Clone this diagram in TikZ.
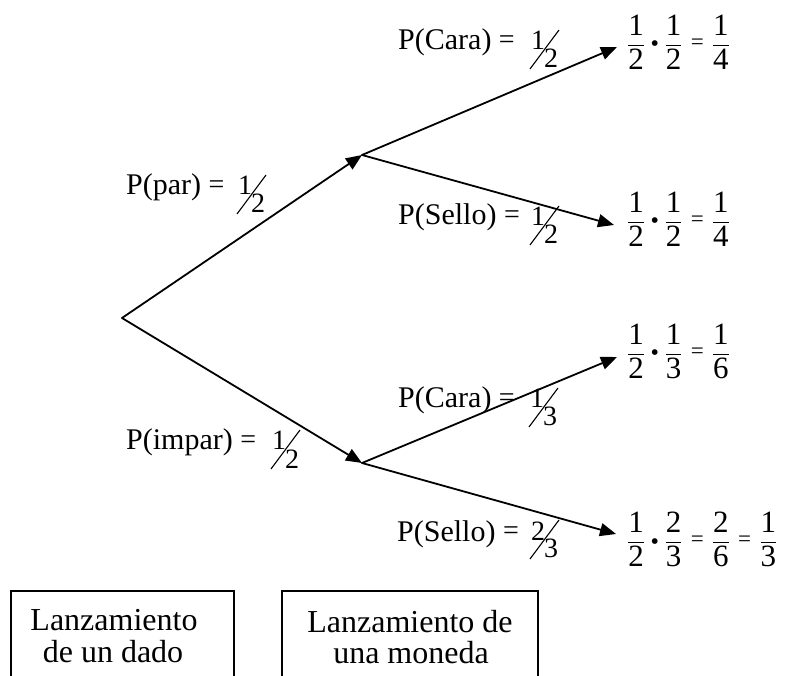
\documentclass[tikz,border=0pt]{standalone}
\usepackage{amsmath}
\usepackage{fontspec}
\setmainfont{Liberation Serif}
\usetikzlibrary{arrows.meta}
\newcommand\fr[2]{\dfrac{\mbox{#1}}{\mbox{#2}}}
\newcommand\dotop{\mathbin{\mbox{\fontsize{24}{24}\selectfont\textbullet}}}
\newcommand\eqop{\mathrel{\mkern1mu\raisebox{2.2pt}{\fontsize{23}{23}\selectfont=}\mkern1mu}}
\newcommand\eqlbl{\raisebox{1.5pt}{\fontsize{28}{28}\selectfont=}}
\tikzset{
  pics/slfrac/.style 2 args={code={
    \draw[slashst] (0,19) -- (29,-20);
    \node[digst, anchor=base] (-n) at (8,0) {#1};
    \node[digst, anchor=base] (-d) at (21,18) {#2};
  }}
}
\begin{document}
\begin{tikzpicture}[x=1pt,y=-1pt,
  edge/.style={line width=1.8pt, line cap=round, -{Triangle[length=16pt,width=13pt]}},
  lbl/.style={anchor=base west, inner sep=0pt, font=\fontsize{30}{36}\selectfont},
  digst/.style={inner sep=0pt, font=\fontsize{28}{32}\selectfont},
  slashst/.style={line width=1.1pt},
  expr/.style={anchor=base west, inner sep=0pt, font=\fontsize{31}{37}\selectfont},
  boxst/.style={draw, line width=1.5pt, anchor=north west, inner sep=0pt},
  boxtext/.style={anchor=base, inner sep=0pt, font=\fontsize{32}{38}\selectfont},
]
\useasboundingbox (0,0) rectangle (788,676);
\clip (0,0) rectangle (788,676);

% tree points
\coordinate (R) at (122,318);
\coordinate (A) at (362,155);
\coordinate (B) at (362,463);
\coordinate (L1) at (617,47);
\coordinate (L2) at (614,225);
\coordinate (L3) at (617,357);
\coordinate (L4) at (616,534);

% labels
\node[lbl] (lc1) at (398,50) {P(Cara) \eqlbl};
\pic (f1) at (530,50) {slfrac={1}{2}};
\node[lbl] (lp) at (126,195) {P(par) \eqlbl};
\pic (f2) at (237,195) {slfrac={1}{2}};
\node[lbl] (ls1) at (398,225) {P(Sello) \eqlbl};
\pic (f3) at (530,226) {slfrac={1}{2}};
\node[lbl] (lc2) at (398,408) {P(Cara) \eqlbl};
\pic (f4) at (529,408) {slfrac={1}{3}};
\node[lbl] (li) at (126,450) {P(impar) \eqlbl};
\pic (f5) at (271,450) {slfrac={1}{2}};
\node[lbl] (ls2) at (397,541) {P(Sello) \eqlbl};
\pic (f6) at (530,540) {slfrac={2}{3}};

% results
\node[expr] (e1) at (627,52) {$\fr12\dotop\fr12\eqop\fr14$};
\node[expr] (e2) at (627,229) {$\fr12\dotop\fr12\eqop\fr14$};
\node[expr] (e3) at (627,361) {$\fr12\dotop\fr13\eqop\fr16$};
\node[expr] (e4) at (627,549) {$\fr12\dotop\fr23\eqop\fr26\eqop\fr13$};

% edges
\draw[edge] (R) -- (A);
\draw[edge] (R) -- (B);
\draw[edge] (A) -- (L1);
\draw[edge] (A) -- (L2);
\draw[edge] (B) -- (L3);
\draw[edge] (B) -- (L4);

% boxes
\node[boxst, minimum width=223pt, minimum height=120pt] (b1) at (10,590) {};
\node[boxst, minimum width=256pt, minimum height=120pt] (b2) at (281,590) {};
\node[boxtext] (t1a) at (114,630) {Lanzamiento};
\node[boxtext] (t1b) at (113,662) {de un dado};
\node[boxtext] (t2a) at (410,632) {Lanzamiento de};
\node[boxtext] (t2b) at (411,663) {una moneda};
\end{tikzpicture}
\end{document}
